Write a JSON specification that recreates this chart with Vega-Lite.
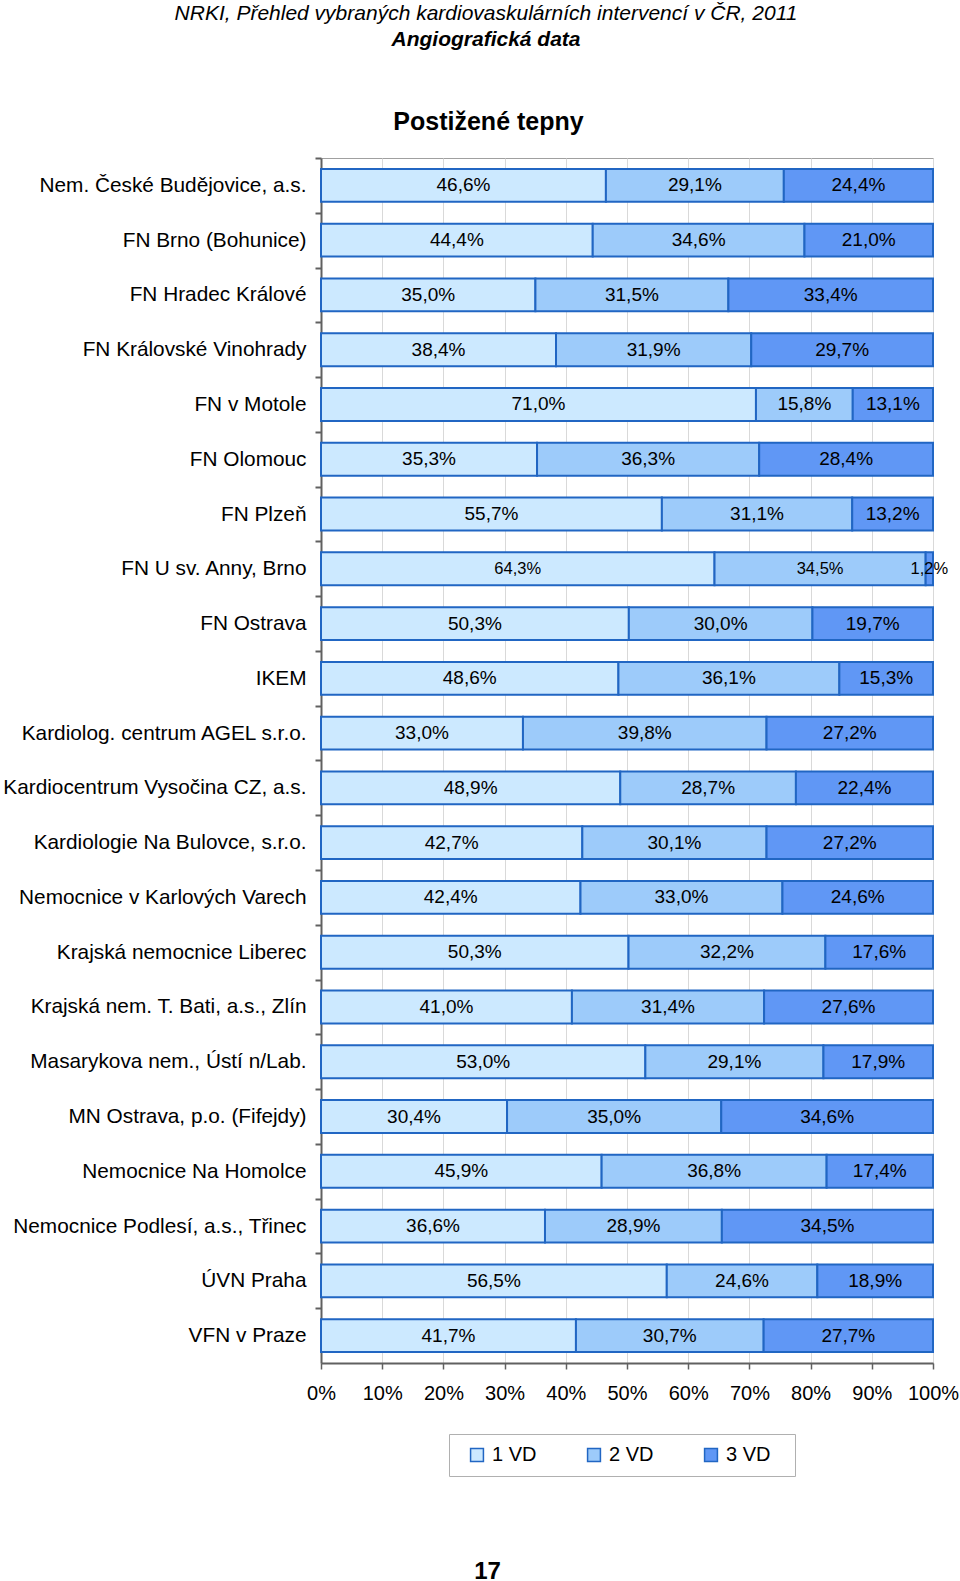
{
  "$schema": "https://vega.github.io/schema/vega-lite/v6.json",
  "width": 612,
  "height": 1205,
  "autosize": {"type": "none"},
  "padding": {"left": 321, "top": 158, "right": 27, "bottom": 218},
  "background": "white",
  "title": {
    "text": "NRKI, Přehled vybraných kardiovaskulárních intervencí v ČR, 2011",
    "subtitle": "Angiografická data",
    "anchor": "middle",
    "frame": "group",
    "dx": -141,
    "offset": 59,
    "font": "Liberation Sans",
    "fontSize": 21,
    "fontStyle": "italic",
    "fontWeight": "normal",
    "color": "#000000",
    "subtitleFont": "Liberation Sans",
    "subtitleFontSize": 21,
    "subtitleFontStyle": "italic",
    "subtitleFontWeight": "bold",
    "subtitleColor": "#000000",
    "subtitlePadding": 5
  },
  "data": {
    "values": [
      {"hospital": "Nem. České Budějovice, a.s.", "vd": "1 VD", "value": 46.6},
      {"hospital": "Nem. České Budějovice, a.s.", "vd": "2 VD", "value": 29.1},
      {"hospital": "Nem. České Budějovice, a.s.", "vd": "3 VD", "value": 24.4},
      {"hospital": "FN Brno (Bohunice)", "vd": "1 VD", "value": 44.4},
      {"hospital": "FN Brno (Bohunice)", "vd": "2 VD", "value": 34.6},
      {"hospital": "FN Brno (Bohunice)", "vd": "3 VD", "value": 21.0},
      {"hospital": "FN Hradec Králové", "vd": "1 VD", "value": 35.0},
      {"hospital": "FN Hradec Králové", "vd": "2 VD", "value": 31.5},
      {"hospital": "FN Hradec Králové", "vd": "3 VD", "value": 33.4},
      {"hospital": "FN Královské Vinohrady", "vd": "1 VD", "value": 38.4},
      {"hospital": "FN Královské Vinohrady", "vd": "2 VD", "value": 31.9},
      {"hospital": "FN Královské Vinohrady", "vd": "3 VD", "value": 29.7},
      {"hospital": "FN v Motole", "vd": "1 VD", "value": 71.0},
      {"hospital": "FN v Motole", "vd": "2 VD", "value": 15.8},
      {"hospital": "FN v Motole", "vd": "3 VD", "value": 13.1},
      {"hospital": "FN Olomouc", "vd": "1 VD", "value": 35.3},
      {"hospital": "FN Olomouc", "vd": "2 VD", "value": 36.3},
      {"hospital": "FN Olomouc", "vd": "3 VD", "value": 28.4},
      {"hospital": "FN Plzeň", "vd": "1 VD", "value": 55.7},
      {"hospital": "FN Plzeň", "vd": "2 VD", "value": 31.1},
      {"hospital": "FN Plzeň", "vd": "3 VD", "value": 13.2},
      {"hospital": "FN U sv. Anny, Brno", "vd": "1 VD", "value": 64.3},
      {"hospital": "FN U sv. Anny, Brno", "vd": "2 VD", "value": 34.5},
      {"hospital": "FN U sv. Anny, Brno", "vd": "3 VD", "value": 1.2},
      {"hospital": "FN Ostrava", "vd": "1 VD", "value": 50.3},
      {"hospital": "FN Ostrava", "vd": "2 VD", "value": 30.0},
      {"hospital": "FN Ostrava", "vd": "3 VD", "value": 19.7},
      {"hospital": "IKEM", "vd": "1 VD", "value": 48.6},
      {"hospital": "IKEM", "vd": "2 VD", "value": 36.1},
      {"hospital": "IKEM", "vd": "3 VD", "value": 15.3},
      {"hospital": "Kardiolog. centrum AGEL s.r.o.", "vd": "1 VD", "value": 33.0},
      {"hospital": "Kardiolog. centrum AGEL s.r.o.", "vd": "2 VD", "value": 39.8},
      {"hospital": "Kardiolog. centrum AGEL s.r.o.", "vd": "3 VD", "value": 27.2},
      {"hospital": "Kardiocentrum Vysočina CZ, a.s.", "vd": "1 VD", "value": 48.9},
      {"hospital": "Kardiocentrum Vysočina CZ, a.s.", "vd": "2 VD", "value": 28.7},
      {"hospital": "Kardiocentrum Vysočina CZ, a.s.", "vd": "3 VD", "value": 22.4},
      {"hospital": "Kardiologie Na Bulovce, s.r.o.", "vd": "1 VD", "value": 42.7},
      {"hospital": "Kardiologie Na Bulovce, s.r.o.", "vd": "2 VD", "value": 30.1},
      {"hospital": "Kardiologie Na Bulovce, s.r.o.", "vd": "3 VD", "value": 27.2},
      {"hospital": "Nemocnice v Karlových Varech", "vd": "1 VD", "value": 42.4},
      {"hospital": "Nemocnice v Karlových Varech", "vd": "2 VD", "value": 33.0},
      {"hospital": "Nemocnice v Karlových Varech", "vd": "3 VD", "value": 24.6},
      {"hospital": "Krajská nemocnice Liberec", "vd": "1 VD", "value": 50.3},
      {"hospital": "Krajská nemocnice Liberec", "vd": "2 VD", "value": 32.2},
      {"hospital": "Krajská nemocnice Liberec", "vd": "3 VD", "value": 17.6},
      {"hospital": "Krajská nem. T. Bati, a.s., Zlín", "vd": "1 VD", "value": 41.0},
      {"hospital": "Krajská nem. T. Bati, a.s., Zlín", "vd": "2 VD", "value": 31.4},
      {"hospital": "Krajská nem. T. Bati, a.s., Zlín", "vd": "3 VD", "value": 27.6},
      {"hospital": "Masarykova nem., Ústí n/Lab.", "vd": "1 VD", "value": 53.0},
      {"hospital": "Masarykova nem., Ústí n/Lab.", "vd": "2 VD", "value": 29.1},
      {"hospital": "Masarykova nem., Ústí n/Lab.", "vd": "3 VD", "value": 17.9},
      {"hospital": "MN Ostrava, p.o. (Fifejdy)", "vd": "1 VD", "value": 30.4},
      {"hospital": "MN Ostrava, p.o. (Fifejdy)", "vd": "2 VD", "value": 35.0},
      {"hospital": "MN Ostrava, p.o. (Fifejdy)", "vd": "3 VD", "value": 34.6},
      {"hospital": "Nemocnice Na Homolce", "vd": "1 VD", "value": 45.9},
      {"hospital": "Nemocnice Na Homolce", "vd": "2 VD", "value": 36.8},
      {"hospital": "Nemocnice Na Homolce", "vd": "3 VD", "value": 17.4},
      {"hospital": "Nemocnice Podlesí, a.s., Třinec", "vd": "1 VD", "value": 36.6},
      {"hospital": "Nemocnice Podlesí, a.s., Třinec", "vd": "2 VD", "value": 28.9},
      {"hospital": "Nemocnice Podlesí, a.s., Třinec", "vd": "3 VD", "value": 34.5},
      {"hospital": "ÚVN Praha", "vd": "1 VD", "value": 56.5},
      {"hospital": "ÚVN Praha", "vd": "2 VD", "value": 24.6},
      {"hospital": "ÚVN Praha", "vd": "3 VD", "value": 18.9},
      {"hospital": "VFN v Praze", "vd": "1 VD", "value": 41.7},
      {"hospital": "VFN v Praze", "vd": "2 VD", "value": 30.7},
      {"hospital": "VFN v Praze", "vd": "3 VD", "value": 27.7}
    ]
  },
  "transform": [
    {"stack": "value", "groupby": ["hospital"], "sort": [{"field": "vd", "order": "ascending"}], "offset": "normalize", "as": ["x0", "x1"]},
    {"calculate": "(datum.x0 + datum.x1) / 2", "as": "mid"},
    {"calculate": "replace(format(datum.value, '.1f'), '.', ',') + '%'", "as": "label"}
  ],
  "encoding": {
    "y": {
      "field": "hospital",
      "type": "nominal",
      "sort": null,
      "scale": {"paddingInner": 0.4, "paddingOuter": 0.2},
      "axis": {
        "title": null,
        "labelFont": "Liberation Sans",
        "labelFontSize": 20.8,
        "labelColor": "#000000",
        "labelPadding": 9,
        "labelLimit": 400,
        "domainColor": "#606060",
        "domainWidth": 2,
        "tickColor": "#606060",
        "tickWidth": 2,
        "tickSize": 6,
        "tickOffset": -27.39,
        "labelOffset": 27.39,
        "grid": false
      }
    }
  },
  "layer": [
    {
      "mark": {"type": "bar", "stroke": "#2166C3", "strokeWidth": 2},
      "encoding": {
        "x": {
          "field": "x0",
          "type": "quantitative",
          "scale": {"domain": [0, 1], "nice": false, "zero": true},
          "axis": {
            "orient": "bottom",
            "values": [0, 0.1, 0.2, 0.3, 0.4, 0.5, 0.6, 0.7, 0.8, 0.9, 1],
            "format": ".0%",
            "labelFont": "Liberation Sans",
            "labelFontSize": 20,
            "labelColor": "#000000",
            "labelPadding": 14,
            "labelFlush": false,
            "labelOverlap": false,
            "domainColor": "#606060",
            "domainWidth": 2,
            "tickColor": "#606060",
            "tickWidth": 1.5,
            "tickSize": 6,
            "grid": true,
            "gridColor": "#d9d9d9",
            "gridWidth": 1,
            "title": "17",
            "titleFont": "Liberation Sans",
            "titleFontSize": 24,
            "titleFontWeight": "bold",
            "titleColor": "#000000",
            "titleX": 166,
            "titleY": 215,
            "titleAlign": "center",
            "titleBaseline": "alphabetic"
          }
        },
        "x2": {"field": "x1"},
        "color": {
          "field": "vd",
          "type": "nominal",
          "scale": {"domain": ["1 VD", "2 VD", "3 VD"], "range": ["#CCE9FF", "#9DCBFA", "#6097F5"]},
          "legend": {
            "orient": "none",
            "legendX": 128,
            "legendY": 1276,
            "direction": "horizontal",
            "columns": 3,
            "columnPadding": 40,
            "padding": 11,
            "strokeColor": "#b0b0b0",
            "fillColor": "#ffffff",
            "title": " ",
            "titleOrient": "right",
            "titlePadding": 14,
            "symbolType": "square",
            "symbolSize": 165,
            "symbolStrokeColor": "#2166C3",
            "symbolStrokeWidth": 1.5,
            "symbolOffset": 7,
            "labelFont": "Liberation Sans",
            "labelFontSize": 20,
            "labelColor": "#000000",
            "labelOffset": 5
          }
        }
      }
    },
    {
      "mark": {"type": "text", "font": "Liberation Sans", "color": "#000000", "baseline": "middle", "align": "center"},
      "encoding": {
        "x": {
          "field": "mid",
          "type": "quantitative",
          "scale": {"domain": [0, 1], "nice": false, "zero": true},
          "axis": {
            "orient": "top",
            "labels": false,
            "ticks": false,
            "domain": false,
            "grid": false,
            "title": "Postižené tepny",
            "titleFont": "Liberation Sans",
            "titleFontSize": 25,
            "titleFontWeight": "bold",
            "titleColor": "#000000",
            "titleX": 167,
            "titleY": -37,
            "titleAlign": "center",
            "titleBaseline": "middle"
          }
        },
        "text": {"field": "label"},
        "size": {
          "condition": {"test": "datum.hospital === 'FN U sv. Anny, Brno'", "value": 16.5},
          "value": 19
        }
      }
    }
  ],
  "config": {
    "font": "Liberation Sans",
    "view": {"stroke": "#a0a0a0", "strokeWidth": 1}
  }
}
